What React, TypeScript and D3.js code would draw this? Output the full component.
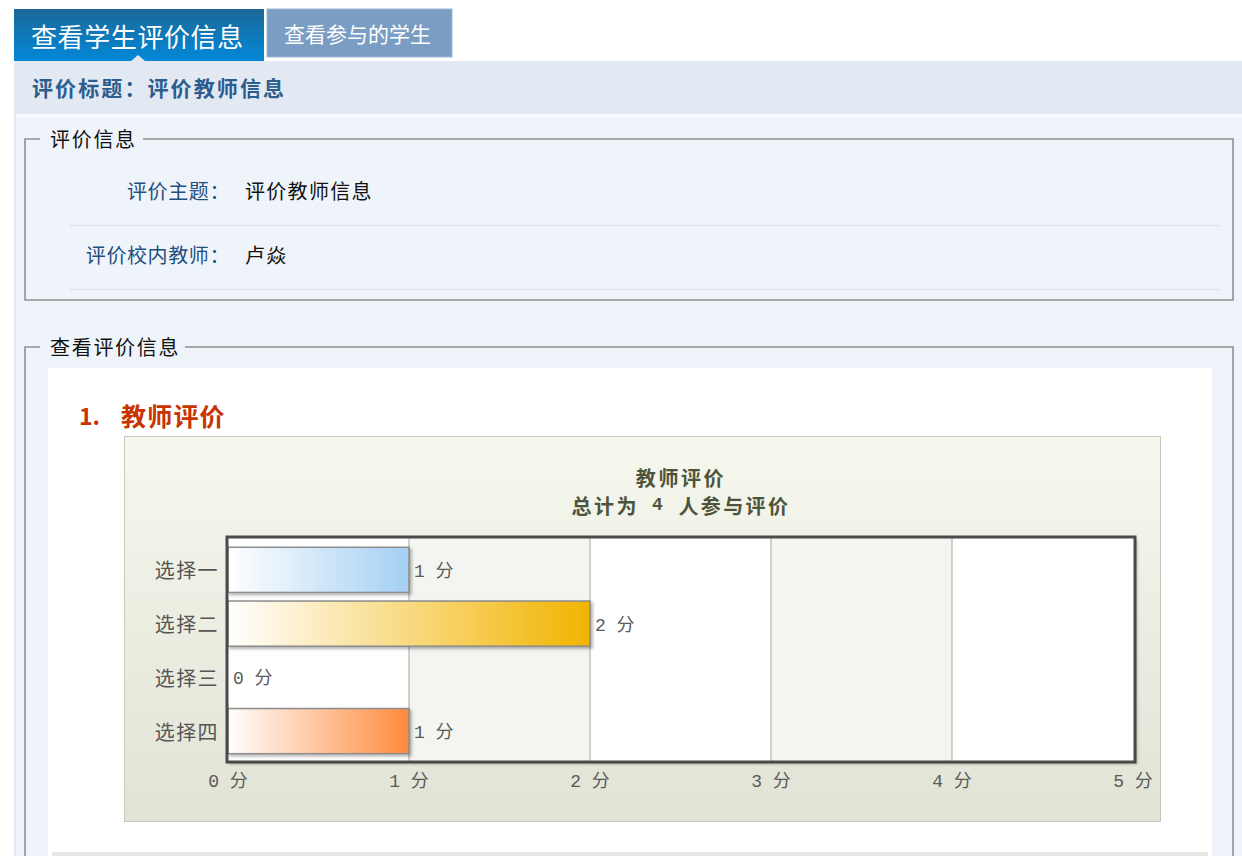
import * as d3 from 'd3'

const categories = ['选择一', '选择二', '选择三', '选择四']
const scores = [1, 2, 0, 1]
const xTicks = [0, 1, 2, 3, 4, 5]
const barColors = ['#a4d0f4', '#f2b400', '#9ccc65', '#ff8a3c']
const totalParticipants = 4
const chartTitle = '教师评价'
const infoRows = [
  { label: '评价主题：', value: '评价教师信息' },
  { label: '评价校内教师：', value: '卢焱' },
]

const W = 1242
const H = 856
const FONT = '"Noto Sans CJK SC", "Noto Sans", sans-serif'
const MONO = '"Liberation Mono", "Noto Sans CJK SC", monospace'

// plot frame of the bar chart
const plot = { left: 227, top: 537, right: 1135, bottom: 762 }

export default function App() {
  const x = d3.scaleLinear().domain([0, 5]).range([plot.left + 1, plot.right - 2])
  const y = d3
    .scaleBand<string>()
    .domain(categories)
    .range([plot.top + 6, plot.bottom - 4])
    .paddingInner(0.16)
    .paddingOuter(0.08)

  const bands = d3.pairs(xTicks)
  const plotCx = (plot.left + plot.right) / 2

  return (
    <svg
      width={W}
      height={H}
      viewBox={`0 0 ${W} ${H}`}
      style={{ position: 'absolute', left: 0, top: 0, fontFamily: FONT }}
    >
      <defs>
        <linearGradient id="tab1" x1="0" y1="0" x2="0" y2="1">
          <stop offset="0" stopColor="#1c6898" />
          <stop offset="1" stopColor="#0288d8" />
        </linearGradient>
        <linearGradient id="chartBg" x1="0" y1="0" x2="0" y2="1">
          <stop offset="0" stopColor="#f6f8ee" />
          <stop offset="1" stopColor="#e1e3d5" />
        </linearGradient>
        {barColors.map((c, i) => (
          <linearGradient key={i} id={`bar${i}`} x1="0" y1="0" x2="1" y2="0">
            <stop offset="0" stopColor="#ffffff" />
            <stop offset="1" stopColor={c} />
          </linearGradient>
        ))}
        <filter id="shadow" x="-5%" y="-20%" width="115%" height="150%">
          <feDropShadow dx="2" dy="2" stdDeviation="1.5" floodColor="#000" floodOpacity="0.3" />
        </filter>
      </defs>

      <rect width={W} height={H} fill="#ffffff" />

      {/* tabs */}
      <rect x={14} y={9} width={250} height={52} fill="url(#tab1)" />
      <text x={31} y={35} fill="#fff" fontSize={26} letterSpacing={0.6} dominantBaseline="central">
        查看学生评价信息
      </text>
      <rect x={267} y={9} width={185} height={48} fill="#7a9dc3" stroke="#9db7d4" />
      <text x={284} y={33} fill="#fff" fontSize={21} dominantBaseline="central">
        查看参与的学生
      </text>

      {/* header bar */}
      <rect x={14} y={61} width={W - 14} height={53} fill="#e2e9f3" />
      <path d="M131,61 L138,55 L145,61 Z" fill="#e2e9f3" />
      <text x={32} y={87} fill="#2d5d8e" fontSize={21} letterSpacing={2.1} fontWeight="bold" dominantBaseline="central">
        评价标题：评价教师信息
      </text>

      {/* content panel */}
      <rect x={14} y={114} width={W - 14} height={H - 114} fill="#eff4fa" />
      <rect x={14} y={114} width={W - 14} height={3} fill="#f7fafd" />
      <rect x={14} y={114} width={2} height={H - 114} fill="#dfe9f4" />

      {/* fieldset 1 */}
      <path
        d="M40,139 L25,139 L25,300 L1233,300 L1233,139 L143,139"
        fill="none"
        stroke="#8f8f8f"
        strokeWidth={1.6}
      />
      <text x={50} y={138} fontSize={20} letterSpacing={1.7} fill="#111" dominantBaseline="central">
        评价信息
      </text>
      {infoRows.map((r, i) => {
        const cy = 190 + i * 64
        return (
          <g key={r.label}>
            <text x={230} y={cy} textAnchor="end" fontSize={20} letterSpacing={0.6} fill="#1f4f80" dominantBaseline="central">
              {r.label}
            </text>
            <text x={245} y={cy} fontSize={20} letterSpacing={1.3} fill="#111" dominantBaseline="central">
              {r.value}
            </text>
            <line x1={70} x2={1221} y1={cy + 35.5} y2={cy + 35.5} stroke="#e1e4e7" strokeWidth={1.5} />
          </g>
        )
      })}

      {/* fieldset 2 */}
      <path
        d="M40,347 L25,347 L25,870 M1233,870 L1233,347 L185,347"
        fill="none"
        stroke="#8f8f8f"
        strokeWidth={1.6}
      />
      <text x={50} y={346} fontSize={20} letterSpacing={1.7} fill="#111" dominantBaseline="central">
        查看评价信息
      </text>
      <rect x={48} y={368} width={1164} height={H - 368} fill="#ffffff" />
      <rect x={52} y={852} width={1156} height={4} fill="#e6e6e6" />

      <text x={79} y={415} fontSize={23} fontWeight="bold" fill="#c83400" dominantBaseline="central">
        1.
      </text>
      <text x={121} y={415} fontSize={25} letterSpacing={1.2} fontWeight="bold" fill="#c83400" dominantBaseline="central">
        教师评价
      </text>

      {/* chart box */}
      <rect x={124.5} y={436.5} width={1036} height={385} fill="url(#chartBg)" stroke="#c6c7bd" />
      <text x={plotCx} y={477} textAnchor="middle" fontSize={20} letterSpacing={2.6} fontWeight="bold" fill="#4e533b" dominantBaseline="central">
        {chartTitle}
      </text>
      <text x={plotCx} y={505} textAnchor="middle" fontSize={20} letterSpacing={2.4} fontWeight="bold" fill="#4e533b" dominantBaseline="central">
        总计为
        <tspan fontFamily={MONO} fontSize={18}>{` ${totalParticipants} `}</tspan>
        人参与评价
      </text>

      {/* plot area */}
      <rect x={plot.left} y={plot.top} width={plot.right - plot.left} height={plot.bottom - plot.top} fill="#fff" filter="url(#shadow)" />
      {bands.map(([a, b], i) =>
        i % 2 === 1 ? (
          <rect key={i} x={x(a)} y={plot.top} width={x(b) - x(a)} height={plot.bottom - plot.top} fill="#f4f5f0" />
        ) : null
      )}
      {xTicks.slice(1, -1).map((t) => (
        <line key={t} x1={x(t)} x2={x(t)} y1={plot.top} y2={plot.bottom} stroke="#c2c3bb" strokeWidth={1.5} />
      ))}

      {categories.map((c, i) => {
        const by = y(c) ?? 0
        const v = scores[i]
        const w = x(v) - x(0)
        const cy = by + y.bandwidth() / 2
        return (
          <g key={c}>
            {v > 0 && (
              <rect
                x={x(0)}
                y={by}
                width={w}
                height={y.bandwidth()}
                fill={`url(#bar${i})`}
                stroke="#8c8c8c"
                strokeWidth={1.5}
                filter="url(#shadow)"
              />
            )}
            <text x={x(v) + 5} y={cy + 2} fontSize={18} fontFamily={MONO} fill="#5a5a5a" dominantBaseline="central">
              {`${v} 分`}
            </text>
            <text x={219} y={cy} textAnchor="end" fontSize={20} letterSpacing={1.4} fill="#555" dominantBaseline="central">
              {c}
            </text>
          </g>
        )
      })}

      <rect
        x={plot.left}
        y={plot.top}
        width={plot.right - plot.left}
        height={plot.bottom - plot.top}
        fill="none"
        stroke="#4a4a4a"
        strokeWidth={3}
      />

      {xTicks.map((t) => (
        <text key={t} x={x(t)} y={782} textAnchor="middle" fontSize={18} fontFamily={MONO} fill="#5a5a5a" dominantBaseline="central">
          {`${t} 分`}
        </text>
      ))}
    </svg>
  )
}
